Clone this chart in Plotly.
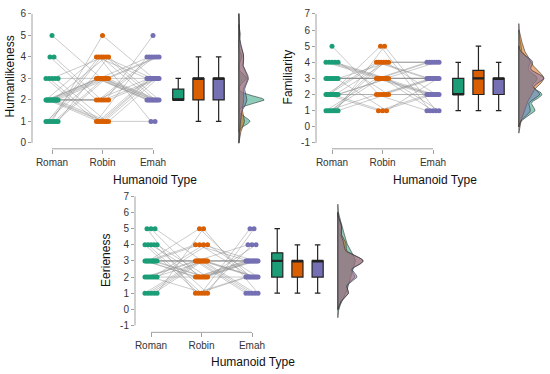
import numpy as np
import plotly.graph_objects as go

humanoids = ["Roman", "Robin", "Emah"]
colors = ["#1B9E77", "#D95F02", "#7570B3"]
fills = ["rgba(27,158,119,0.5)", "rgba(217,95,2,0.5)", "rgba(117,112,179,0.5)"]

# per-subject ratings (31 participants), read/
humanlikeness_roman = [2,1,3,2,2,4,1,2,3,2,1,2,5,2,3,2,1,2,2,4,3,1,2,2,1,3,2,2,1,2,2]
humanlikeness_robin = [4,3,1,3,1,2,4,3,1,3,4,1,3,2,4,3,5,1,4,2,1,3,3,2,3,3,1,2,4,3,2]
humanlikeness_emah  = [3,2,4,2,3,3,1,2,3,4,2,3,2,4,3,2,3,3,2,4,1,2,3,3,4,2,3,5,2,4,3]

familiarity_roman = [1,2,3,1,4,2,2,3,1,2,5,3,1,4,2,3,2,1,3,4,2,1,3,2,4,1,3,2,3,4,2]
familiarity_robin = [3,4,3,2,3,1,4,3,3,5,2,3,4,3,2,3,1,4,3,3,2,5,3,4,3,2,1,3,4,2,3]
familiarity_emah  = [2,3,4,1,3,2,3,4,2,1,3,2,4,3,3,1,2,4,3,2,3,1,4,2,3,2,3,1,4,2,3]

eerieness_roman = [3,5,2,1,3,4,3,2,5,1,3,4,2,3,1,3,4,2,5,3,1,2,3,4,3,2,1,3,4,2,3]
eerieness_robin = [2,1,3,3,2,1,4,3,2,3,5,1,2,3,3,4,2,1,3,2,3,4,3,1,2,3,5,3,2,4,3]
eerieness_emah  = [3,2,1,4,3,2,3,1,2,3,2,5,3,3,1,2,3,4,2,3,1,3,2,5,3,2,1,3,4,2,3]

ticks_humanlikeness = [0, 1, 2, 3, 4, 5, 6]
ticks_familiarity = [-1, 0, 1, 2, 3, 4, 5, 6, 7]
ticks_eerieness = [-1, 0, 1, 2, 3, 4, 5, 6, 7]

W, H = 550, 374
FONT = "Liberation Sans, Arial, sans-serif"
AXC = "#a0a0a0"

panels = [
    dict(title="Humanlikeness", data=[humanlikeness_roman, humanlikeness_robin, humanlikeness_emah],
         ticks=ticks_humanlikeness, xdom=(32, 268), ydom=(8, 147),
         xr=(-0.396, 4.277), yr=(-0.277, 6.138), ytitle=(10, 74), xtitle=(155, 178)),
    dict(title="Familiarity", data=[familiarity_roman, familiarity_robin, familiarity_emah],
         ticks=ticks_familiarity, xdom=(316, 550), ydom=(8, 147),
         xr=(-0.317, 4.317), yr=(-1.369, 7.185), ytitle=(288, 75), xtitle=(435, 178)),
    dict(title="Eerieness", data=[eerieness_roman, eerieness_robin, eerieness_emah],
         ticks=ticks_eerieness, xdom=(135, 370), ydom=(190, 332),
         xr=(-0.317, 4.337), yr=(-1.431, 7.308), ytitle=(106, 260), xtitle=(253, 362)),
]

BOX_POS = [2.5, 2.9, 3.3]
BOX_W = 0.22
DENS_POS = 3.7
DENS_MAXW = 0.5


def spread(vals, center):
    vals = np.asarray(vals)
    xs = np.full(len(vals), float(center))
    for v in np.unique(vals):
        idx = np.where(vals == v)[0]
        k = len(idx)
        if k > 1:
            w = 0.12 * min(1.0, (k - 1) / 3)
            xs[idx] = center + np.linspace(-w, w, k)
    return xs


def bw_nrd0(x):
    x = np.asarray(x, float)
    sd = x.std(ddof=1)
    iqr = np.subtract(*np.percentile(x, [75, 25]))
    lo = min(sd, iqr / 1.34) if iqr > 0 else sd
    return 0.9 * lo * len(x) ** -0.2


def kde(x):
    x = np.asarray(x, float)
    bw = bw_nrd0(x)
    grid = np.linspace(x.min() - 3 * bw, x.max() + 3 * bw, 300)
    z = (grid[:, None] - x[None, :]) / bw
    dens = np.exp(-0.5 * z ** 2).sum(axis=1) / (len(x) * bw * np.sqrt(2 * np.pi))
    return grid, dens


fig = go.Figure()
layout = dict(width=W, height=H, margin=dict(l=0, r=0, t=0, b=0),
              plot_bgcolor="white", paper_bgcolor="white", showlegend=False,
              font=dict(family=FONT, size=10, color="#333333"),
              boxmode="overlay")
shapes, annotations = [], []

for p_i, p in enumerate(panels):
    sfx = "" if p_i == 0 else str(p_i + 1)
    xa, ya = "x" + sfx, "y" + sfx
    xs = [spread(d, c) for c, d in enumerate(p["data"])]

    lx, ly = [], []
    for s in range(len(p["data"][0])):
        for g in range(3):
            lx.append(xs[g][s]); ly.append(p["data"][g][s])
        lx.append(None); ly.append(None)
    fig.add_trace(go.Scatter(x=lx, y=ly, mode="lines", xaxis=xa, yaxis=ya,
                             line=dict(color="rgba(140,140,140,0.5)", width=0.9),
                             hoverinfo="skip"))
    for g in range(3):
        fig.add_trace(go.Scatter(x=xs[g], y=p["data"][g], mode="markers", xaxis=xa, yaxis=ya,
                                 marker=dict(color=colors[g], size=5, line=dict(width=0))))
    for g in range(3):
        fig.add_trace(go.Box(y=p["data"][g], x0=BOX_POS[g], width=BOX_W, xaxis=xa, yaxis=ya,
                             fillcolor=colors[g], line=dict(color="#222222", width=1.2),
                             boxpoints="outliers",
                             marker=dict(color="rgba(0,0,0,0)", size=1, line=dict(width=0)),
                             whiskerwidth=0.5, quartilemethod="inclusive",
                             name=humanoids[g]))
        med = float(np.median(p["data"][g]))
        fig.add_trace(go.Scatter(x=[BOX_POS[g] - BOX_W / 2, BOX_POS[g] + BOX_W / 2], y=[med, med],
                                 mode="lines", xaxis=xa, yaxis=ya,
                                 line=dict(color="#222222", width=2.2), hoverinfo="skip"))
    kdes = [kde(d) for d in p["data"]]
    dmax = max(k[1].max() for k in kdes)
    for g in range(3):
        grid, dens = kdes[g]
        dx = DENS_POS + dens / dmax * DENS_MAXW
        px = np.concatenate([[DENS_POS], dx, [DENS_POS, DENS_POS]])
        py = np.concatenate([[grid[0]], grid, [grid[-1], grid[0]]])
        fig.add_trace(go.Scatter(x=px, y=py, mode="lines", fill="toself", fillcolor=fills[g],
                                 xaxis=xa, yaxis=ya, line=dict(color="#333333", width=0.6),
                                 hoverinfo="skip"))

    layout["xaxis" + sfx] = dict(domain=[p["xdom"][0] / W, p["xdom"][1] / W], range=list(p["xr"]),
                                 anchor=ya, tickmode="array", tickvals=[0, 1, 2], ticktext=humanoids,
                                 ticks="outside", ticklen=4, tickcolor=AXC, showgrid=False,
                                 zeroline=False, showline=False, tickfont=dict(size=10, color="#333333"))
    layout["yaxis" + sfx] = dict(domain=[1 - p["ydom"][1] / H, 1 - p["ydom"][0] / H], range=list(p["yr"]),
                                 anchor=xa, tickmode="array", tickvals=p["ticks"],
                                 ticktext=[str(t) for t in p["ticks"]],
                                 ticks="outside", ticklen=3, tickcolor=AXC, showgrid=False,
                                 zeroline=False, showline=False, tickfont=dict(size=10, color="#333333"))
    shapes.append(dict(type="line", xref=xa + " domain", yref=ya, x0=0, x1=0,
                       y0=min(p["ticks"]), y1=max(p["ticks"]), line=dict(color=AXC, width=1)))
    shapes.append(dict(type="line", xref=xa, yref=ya + " domain", x0=0, x1=2, y0=0, y1=0,
                       line=dict(color=AXC, width=1)))
    annotations.append(dict(text=p["title"], xref="paper", yref="paper",
                            x=p["ytitle"][0] / W, y=1 - p["ytitle"][1] / H, textangle=-90,
                            showarrow=False, font=dict(size=12, color="#111111"),
                            xanchor="center", yanchor="middle"))
    annotations.append(dict(text="Humanoid Type", xref="paper", yref="paper",
                            x=p["xtitle"][0] / W, y=1 - p["xtitle"][1] / H,
                            showarrow=False, font=dict(size=12, color="#111111"),
                            xanchor="center", yanchor="middle"))

layout["shapes"] = shapes
layout["annotations"] = annotations
fig.update_layout(**layout)
fig.write_html("out.html", config={"displayModeBar": False},
               post_script="document.body.style.margin='0';document.body.style.padding='0';")
